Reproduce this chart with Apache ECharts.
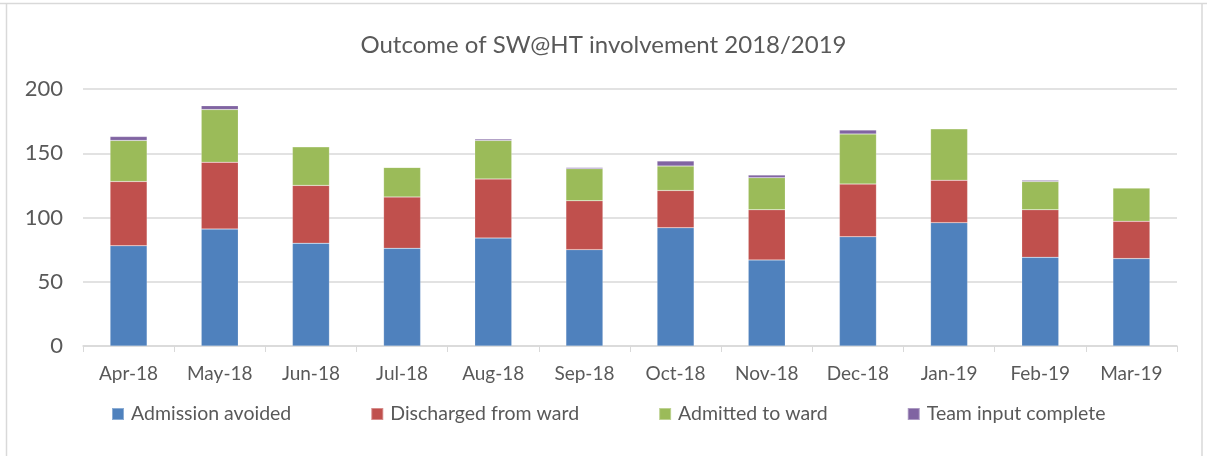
<!DOCTYPE html>
<html>
<head>
<meta charset="utf-8">
<script src="https://cdn.jsdelivr.net/npm/echarts@6/dist/echarts.min.js"></script>
<style>
  html, body { margin: 0; padding: 0; background: #fff; }
  #chart { width: 1207px; height: 456px; }
</style>
</head>
<body>
<div id="chart"></div>
<script>
const months = ['Apr-18', 'May-18', 'Jun-18', 'Jul-18', 'Aug-18', 'Sep-18', 'Oct-18', 'Nov-18', 'Dec-18', 'Jan-19', 'Feb-19', 'Mar-19']
const admissionAvoided = [78, 91, 80, 76, 84, 75, 92, 67, 85, 96, 69, 68]
const dischargedFromWard = [50, 52, 45, 40, 46, 38, 29, 39, 41, 33, 37, 29]
const admittedToWard = [32, 41, 30, 23, 30, 25, 19, 25, 39, 40, 22, 26]
const teamInputComplete = [3, 3, 0, 0, 1, 1, 4, 2, 3, 0, 1, 0]
const yTicks = [0, 50, 100, 150, 200]

const font = 'Lato, "Open Sans", sans-serif'
const txt = '#595959'

function bar (name, data, color) {
  return {
    name,
    type: 'bar',
    stack: 'total',
    barWidth: 37,
    itemStyle: { color, borderColor: 'rgba(255,255,255,0.35)', borderWidth: 0.5 },
    data
  }
}

const chart = echarts.init(document.getElementById('chart'))
chart.setOption({
  animation: false,
  textStyle: { fontFamily: font },
  title: {
    text: 'Outcome of SW@HT involvement 2018/2019',
    left: 'center',
    top: 28,
    textStyle: { color: txt, fontSize: 24, fontWeight: 'normal', fontFamily: font }
  },
  legend: {
    left: 111,
    top: 404,
    padding: 0,
    itemWidth: 12,
    itemHeight: 12,
    itemGap: 79,
    icon: 'rect',
    textStyle: { color: txt, fontSize: 19.5, fontFamily: font, padding: [0, 0, 0, 2] },
    data: ['Admission avoided', 'Discharged from ward', 'Admitted to ward', 'Team input complete']
  },
  grid: { left: 83, right: 30, top: 89, bottom: 110 },
  xAxis: {
    type: 'category',
    data: months,
    axisLine: { lineStyle: { color: '#d9d9d9', width: 1.5 } },
    axisTick: { show: true, length: 6, lineStyle: { color: '#d9d9d9' } },
    axisLabel: { color: txt, fontSize: 19, margin: 18, fontFamily: font }
  },
  yAxis: {
    type: 'value',
    min: yTicks[0],
    max: yTicks[yTicks.length - 1],
    interval: 50,
    axisLine: { show: false },
    axisTick: { show: false },
    axisLabel: { color: txt, fontSize: 22, margin: 20, fontFamily: font },
    splitLine: { lineStyle: { color: '#d9d9d9', width: 1.5 } }
  },
  graphic: [
    { type: 'line', shape: { x1: 0, y1: 3.5, x2: 1207, y2: 3.5 }, style: { stroke: '#d9d9d9', lineWidth: 1.5 } },
    { type: 'line', shape: { x1: 6.5, y1: 3.5, x2: 6.5, y2: 456 }, style: { stroke: '#d9d9d9', lineWidth: 1.5 } },
    { type: 'line', shape: { x1: 1202, y1: 3.5, x2: 1202, y2: 456 }, style: { stroke: '#d9d9d9', lineWidth: 1.5 } }
  ],
  series: [
    bar('Admission avoided', admissionAvoided, '#4f81bd'),
    bar('Discharged from ward', dischargedFromWard, '#c0504d'),
    bar('Admitted to ward', admittedToWard, '#9bbb59'),
    bar('Team input complete', teamInputComplete, '#8064a2')
  ]
})
</script>
</body>
</html>
